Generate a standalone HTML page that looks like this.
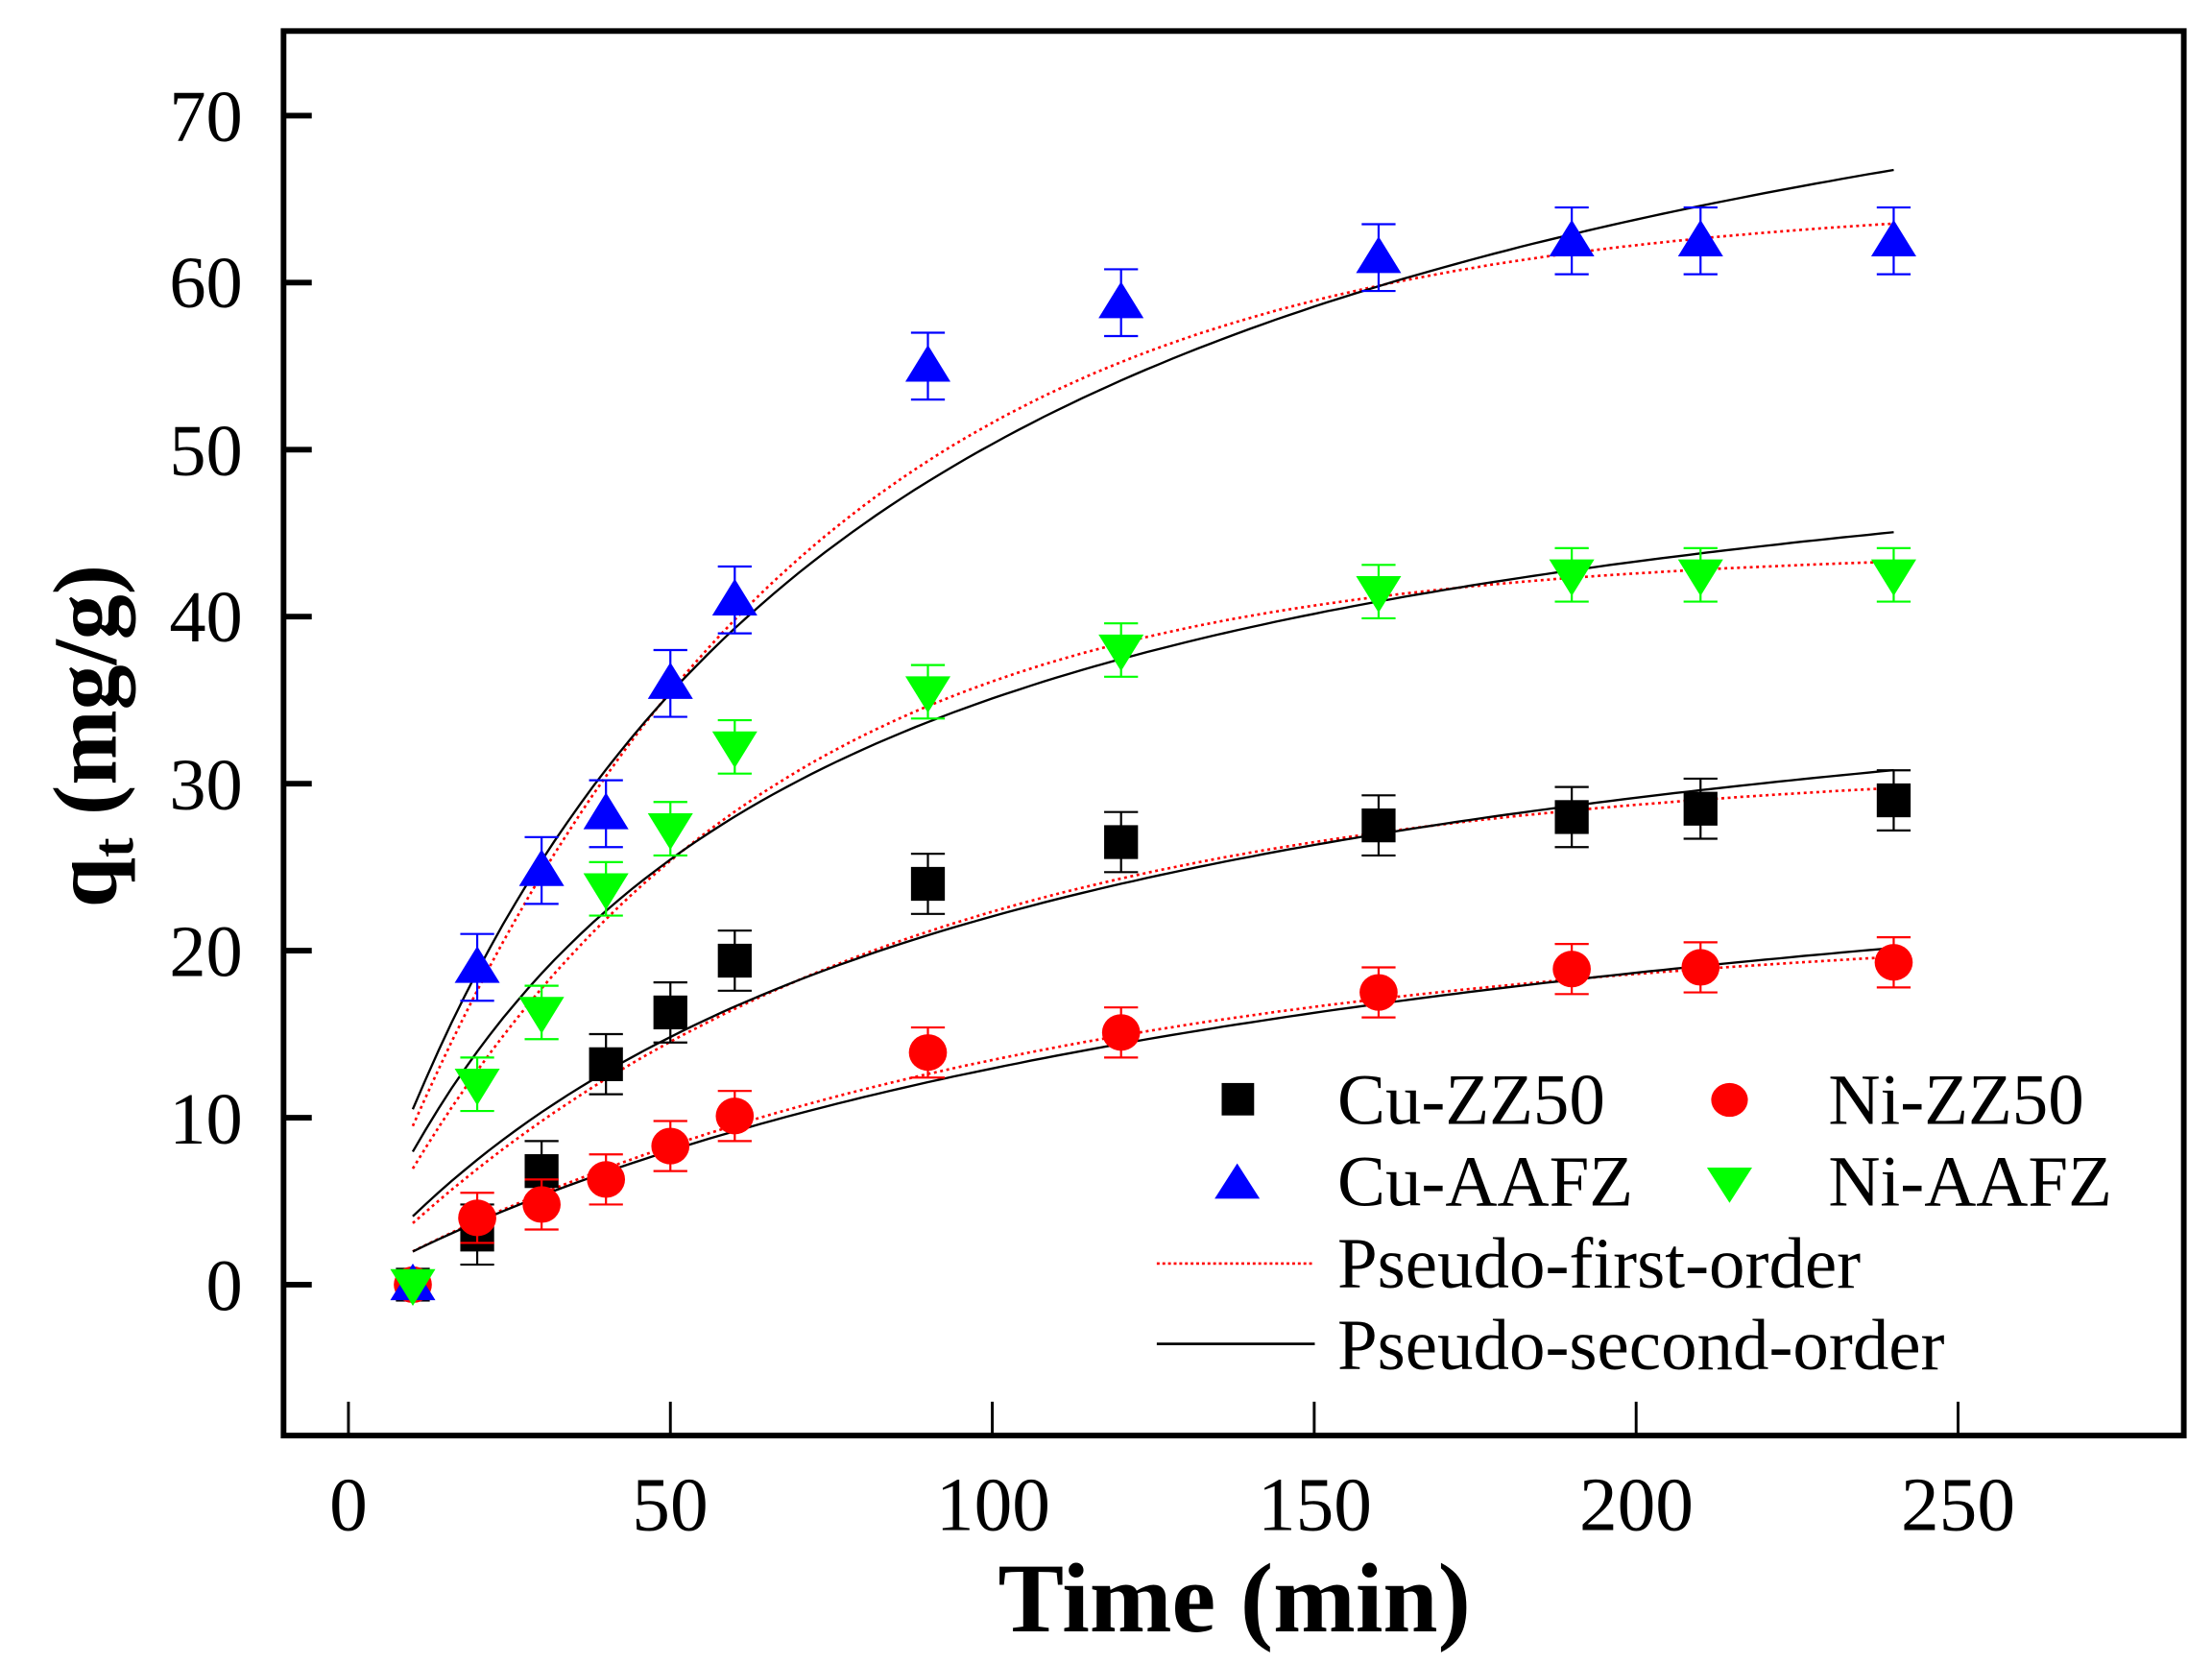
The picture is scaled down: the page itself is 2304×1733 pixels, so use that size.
<!DOCTYPE html>
<html><head><meta charset="utf-8"><style>html,body{margin:0;padding:0;background:#fff}svg{display:block}</style></head>
<body>
<svg id="s" width="2304" height="1733" viewBox="0 0 1568 1180" preserveAspectRatio="none" xmlns="http://www.w3.org/2000/svg" font-family="Liberation Serif, serif">
<rect width="1568" height="1180" fill="#fff"/>
<g id="plot"></g>
<rect x="201" y="22" width="1347" height="996" fill="none" stroke="#000" stroke-width="4"/>
<g font-size="52" text-anchor="end">
<text x="172" y="100">70</text><text x="172" y="218">60</text><text x="172" y="337">50</text>
<text x="172" y="455">40</text><text x="172" y="574">30</text><text x="172" y="692">20</text>
<text x="172" y="811">10</text><text x="172" y="929">0</text>
</g>
<g font-size="54" text-anchor="middle">
<text x="247" y="1085">0</text><text x="475" y="1085">50</text><text x="704" y="1085">100</text>
<text x="932" y="1085">150</text><text x="1160" y="1085">200</text><text x="1388" y="1085">250</text>
</g>
<text x="875" y="1157" font-size="70" font-weight="bold" text-anchor="middle">Time (min)</text>
<text transform="translate(82,522) rotate(-90)" font-size="64" font-weight="bold" text-anchor="middle">q<tspan font-size="42" dy="12">t</tspan><tspan dy="-12"> (mg/g)</tspan></text>
<g font-size="51">
<rect x="866" y="768" width="23" height="23" fill="#000"/>
<text x="948" y="797">Cu-ZZ50</text>
<ellipse cx="1226" cy="780" rx="13" ry="12" fill="#f00"/>
<text x="1296" y="797">Ni-ZZ50</text>
<polygon points="877,825 861,850 893,850" fill="#00f"/>
<text x="948" y="855">Cu-AAFZ</text>
<polygon points="1210,828 1242,828 1226,853" fill="#0f0"/>
<text x="1296" y="855">Ni-AAFZ</text>
<line x1="820" y1="896" x2="932" y2="896" stroke="#f00" stroke-width="1.8" stroke-dasharray="2,2"/>
<text x="948" y="913">Pseudo-first-order</text>
<line x1="820" y1="953" x2="932" y2="953" stroke="#000" stroke-width="1.8"/>
<text x="948" y="971">Pseudo-second-order</text>
</g>
</svg>
<script>
var X=t=>247+4.564*t, Y=v=>911-11.843*v;
var g=document.getElementById('plot'),h='';
[0,50,100,150,200,250].forEach(t=>{h+=`<line x1="${X(t)}" y1="1018" x2="${X(t)}" y2="994" stroke="#000" stroke-width="2"/>`});
[0,10,20,30,40,50,60,70].forEach(v=>{h+=`<line x1="201" y1="${Y(v)}" x2="221" y2="${Y(v)}" stroke="#000" stroke-width="4"/>`});
var T=[10,20,30,40,50,60,90,120,160,190,210,240];
var data=[
 {c:'#000',m:'sq',e:1.8,d:[0,3,6.8,13.2,16.3,19.4,24,26.5,27.5,28,28.5,29]},
 {c:'#f00',m:'ci',e:1.5,d:[0,4,4.8,6.3,8.3,10.1,13.9,15.1,17.5,18.9,19,19.3]},
 {c:'#00f',m:'up',e:2,d:[0,19,24.8,28.2,36,41,55,58.8,61.5,62.5,62.5,62.5]},
 {c:'#0f0',m:'dn',e:1.6,d:[0,12,16.3,23.7,27.3,32.2,35.5,38,41.5,42.5,42.5,42.5]}];
function pfo(qe,k){return t=>qe*(1-Math.exp(-k*t))}
function pso(qe,a){return t=>qe*a*t/(1+a*t)}
var curves=[[pfo(65,0.0158),'r'],[pfo(44,0.0172),'r'],[pfo(31.3,0.0125),'r'],[pfo(21.8,0.0096),'r'],
 [pso(87,0.01373),'k'],[pso(56.5,0.0164),'k'],[pso(43,0.01053),'k'],[pso(33.5,0.0063),'k']];
curves.forEach(([f,c])=>{var p=[];for(var t=10;t<=240;t+=2)p.push(X(t).toFixed(1)+','+Y(f(t)).toFixed(1));
 h+=`<polyline points="${p.join(' ')}" fill="none" stroke="${c=='r'?'#f00':'#000'}" stroke-width="${c=='r'?1.8:1.6}" ${c=='r'?'stroke-dasharray="2,2.5"':''}/>`});
data.forEach(s=>{T.forEach((t,i)=>{var x=X(t),y=Y(s.d[i]),e=s.e*11.843;
 if(i>0){h+=`<line x1="${x}" y1="${y-e}" x2="${x}" y2="${y+e}" stroke="${s.c}" stroke-width="1.5"/><line x1="${x-12}" y1="${y-e}" x2="${x+12}" y2="${y-e}" stroke="${s.c}" stroke-width="1.5"/><line x1="${x-12}" y1="${y+e}" x2="${x+12}" y2="${y+e}" stroke="${s.c}" stroke-width="1.5"/>`;}
 if(s.m=='sq')h+=`<rect x="${x-12}" y="${y-12}" width="24" height="24" fill="${s.c}"/>`;
 if(s.m=='ci')h+=`<ellipse cx="${x}" cy="${y}" rx="13.5" ry="13" fill="${s.c}"/>`;
 if(s.m=='up')h+=`<polygon points="${x},${y-15} ${x-16},${y+11} ${x+16},${y+11}" fill="${s.c}"/>`;
 if(s.m=='dn')h+=`<polygon points="${x-16},${y-11} ${x+16},${y-11} ${x},${y+15}" fill="${s.c}"/>`;
});});
g.innerHTML=h;
</script>
</body></html>
